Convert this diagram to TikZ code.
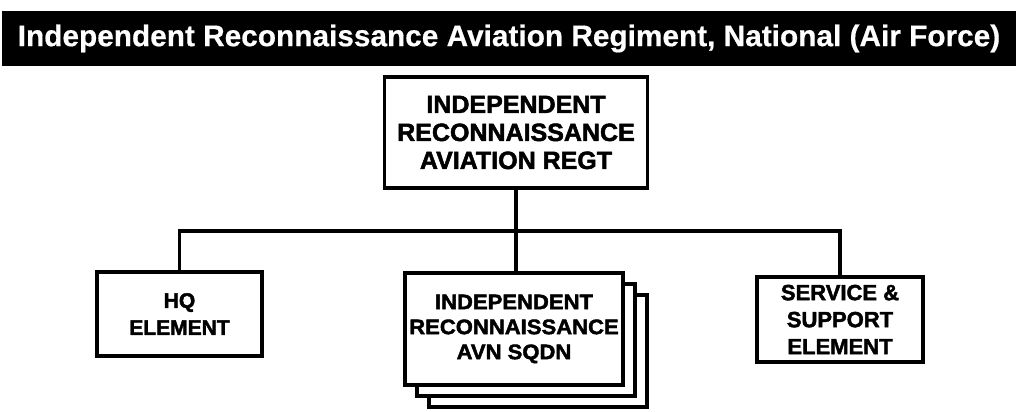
\documentclass[tikz,border=0pt]{standalone}
\usepackage{fontspec}
\setmainfont{Liberation Sans}
\newfontfamily\boxfont[FakeBold=2]{Liberation Sans Bold}
\newfontfamily\sqfont[FakeBold=2,FakeStretch=1.05]{Liberation Sans Bold}
\newfontfamily\titlefont[FakeBold=0.5]{Liberation Sans Bold}
\begin{document}
\begin{tikzpicture}[x=1pt,y=-1pt,
  unit/.style={draw=black,line width=3.2pt,fill=white,rectangle,inner sep=0pt,align=center},
  conn/.style={draw=black,line width=3.2pt}]
\useasboundingbox (0,0) rectangle (1021,412);
\node[fill=black,text=white,minimum width=1014pt,minimum height=55pt,inner sep=0pt,
  font=\titlefont\fontsize{29.8}{34}\selectfont] (title) at (509,38.5)
  {Independent Reconnaissance Aviation Regiment, National (Air Force)};
\node[unit,minimum width=263pt,minimum height=111pt,font=\boxfont\fontsize{25}{28}\selectfont] (top) at (516,132.5)
  {INDEPENDENT\\RECONNAISSANCE\\AVIATION REGT};
\node[unit,minimum width=165pt,minimum height=84pt,font=\boxfont\fontsize{21}{27}\selectfont] (hq) at (179.5,314)
  {HQ\\ELEMENT};
\node[unit,minimum width=218pt,minimum height=112pt] (sq3) at (538,351) {};
\node[unit,minimum width=218pt,minimum height=112pt] (sq2) at (526,340) {};
\node[unit,minimum width=218pt,minimum height=112pt,font=\sqfont\fontsize{21}{25}\selectfont] (sq) at (514,329)
  {INDEPENDENT\\RECONNAISSANCE\\AVN SQDN};
\node[unit,minimum width=166pt,minimum height=85pt,font=\boxfont\fontsize{22}{27}\selectfont] (svc) at (840,319.5)
  {SERVICE \&\\SUPPORT\\ELEMENT};
\coordinate (bus) at (516,231);
\draw[conn] (top.south) -- (sq.north -| top.south);
\draw[conn] (hq.north) -- (hq.north |- bus) -- (svc.north |- bus) -- (svc.north);
\end{tikzpicture}
\end{document}
